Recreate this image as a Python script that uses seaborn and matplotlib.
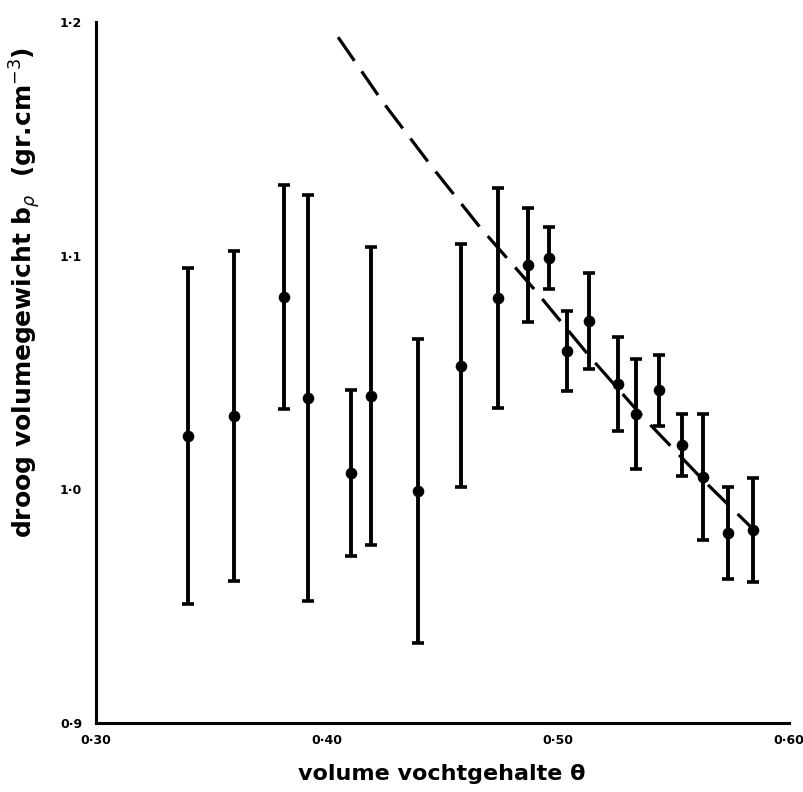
import matplotlib
matplotlib.use("Agg")
import matplotlib.pyplot as plt
import seaborn as sns
import pandas as pd

# ---- data ----
theta = [0.3398, 0.3597, 0.3814, 0.3918, 0.4104, 0.4190, 0.4394, 0.4580, 0.4740, 0.4870,
         0.4961, 0.5039, 0.5134, 0.5260, 0.5338, 0.5437, 0.5537, 0.5628, 0.5736, 0.5844]
density = [1.0228, 1.0314, 1.0823, 1.0391, 1.0070, 1.0399, 0.9993, 1.0528, 1.0819, 1.0960,
           1.0990, 1.0592, 1.0720, 1.0451, 1.0322, 1.0425, 1.0190, 1.0053, 0.9813, 0.9826]
err = [0.0719, 0.0706, 0.0480, 0.0870, 0.0357, 0.0636, 0.0650, 0.0520, 0.0470, 0.0246,
       0.0133, 0.0170, 0.0205, 0.0203, 0.0235, 0.0152, 0.0132, 0.0270, 0.0197, 0.0222]

curve_theta = [0.4048, 0.4242, 0.4455, 0.4662, 0.4900, 0.5139, 0.5368, 0.5628, 0.5840]
curve_density = [1.1935, 1.1657, 1.1379, 1.1122, 1.0853, 1.0566, 1.0309, 1.0040, 0.9834]

x_ticks = [0.30, 0.35, 0.40, 0.45, 0.50, 0.55, 0.60]
x_ticklabels = ["0·30", "", "0·40", "", "0·50", "", "0·60"]
y_ticks = [0.90, 0.95, 1.00, 1.05, 1.10, 1.15, 1.20]
y_ticklabels = ["0·9", "", "1·0", "", "1·1", "", "1·2"]

pts = pd.DataFrame({"theta": theta, "density": density, "err": err})
curve = pd.DataFrame({"theta": curve_theta, "density": curve_density})

sns.set_theme(style="white")
plt.rcParams["font.family"] = ["DejaVu Sans"]

fig = plt.figure(figsize=(8.04, 7.92), dpi=100)
ax = fig.add_axes([96 / 804, 1 - 723 / 792, 693 / 804, 701 / 792])

sns.lineplot(data=curve, x="theta", y="density", ax=ax, color="black",
             linewidth=2.3, linestyle=(0, (9, 4)), sort=False, zorder=2)
ax.errorbar(pts["theta"], pts["density"], yerr=pts["err"], fmt="none",
            ecolor="black", elinewidth=2.8, capsize=4.5, capthick=2.6, zorder=3)
sns.scatterplot(data=pts, x="theta", y="density", ax=ax, color="black",
                s=70, edgecolor="black", linewidth=0, zorder=4)

ax.set_xlim(0.30, 0.60)
ax.set_ylim(0.90, 1.20)
ax.set_xticks(x_ticks)
ax.set_xticklabels(x_ticklabels, fontsize=9, fontweight="bold")
ax.set_yticks(y_ticks)
ax.set_yticklabels(y_ticklabels, fontsize=9, fontweight="bold")
ax.tick_params(axis="x", direction="in", length=6.5, width=1.8, pad=8, colors="black")
ax.tick_params(axis="y", direction="in", length=9.5, width=1.8, pad=10, colors="black")
ax.set_xlabel("")
ax.set_ylabel("")

for side in ("top", "right"):
    ax.spines[side].set_visible(False)
for side in ("left", "bottom"):
    ax.spines[side].set_color("black")
    ax.spines[side].set_linewidth(2.2)

fig.text(442 / 804, 1 - 774 / 792, "volume vochtgehalte θ", ha="center", va="center",
         fontsize=16, fontweight="bold", color="black")
fig.text(25 / 804, 1 - 292 / 792, r"droog volumegewicht b$_\rho$  (gr.cm$^{-3}$)",
         ha="center", va="center", rotation=90, fontsize=18, fontweight="bold", color="black")

fig.savefig("out.png", dpi=100, facecolor="white")
